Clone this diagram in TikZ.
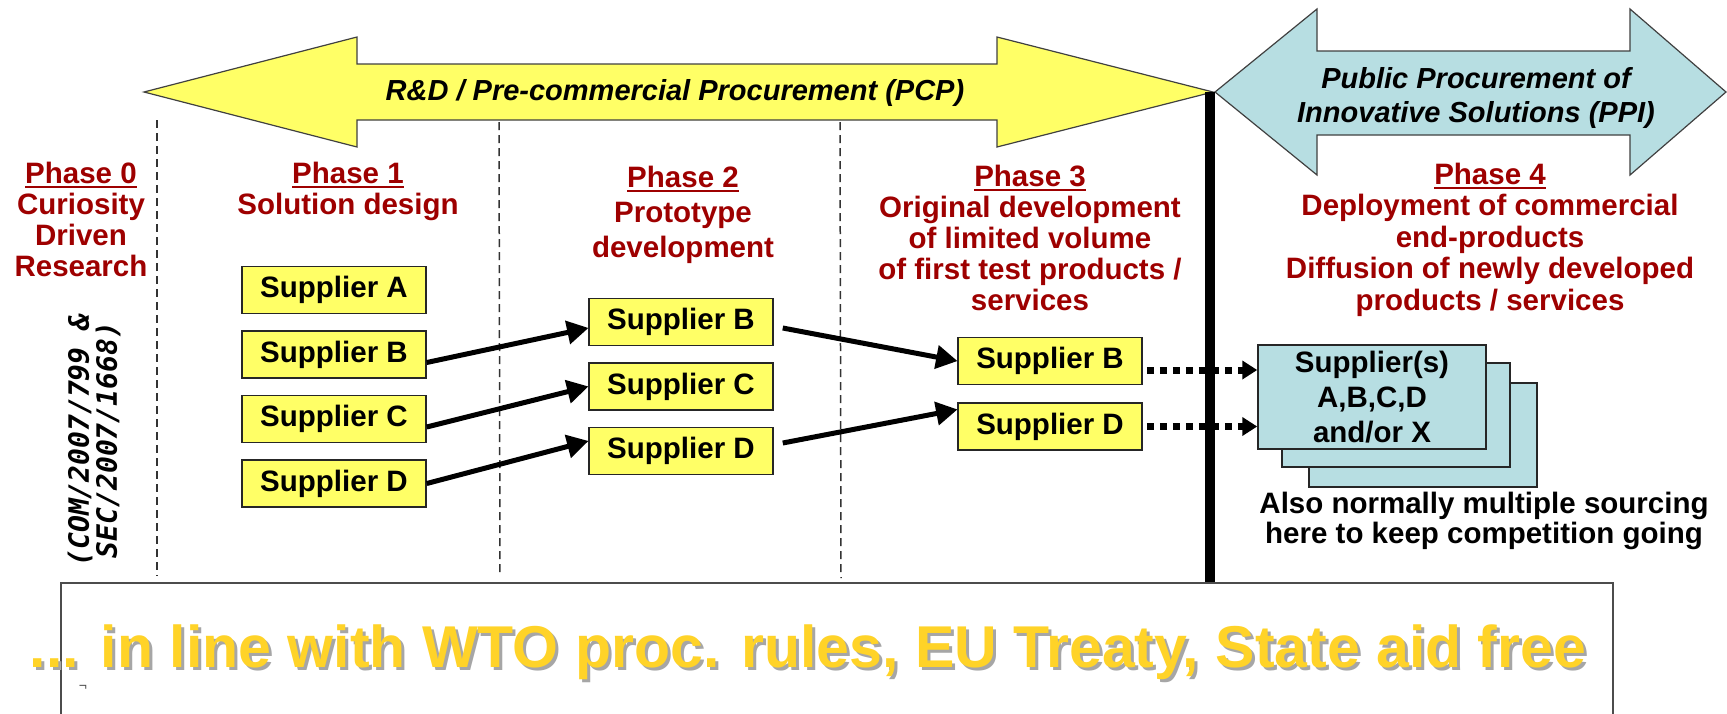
\documentclass[tikz,border=0pt]{standalone}
\usepackage{fontspec}
\setmainfont{Liberation Sans}
\newfontfamily\refmono{DejaVu Sans Mono}
\usepackage{tikz}
\usetikzlibrary{calc}
\usetikzlibrary{arrows}
\usetikzlibrary{arrows.meta}
\usetikzlibrary{positioning}
\definecolor{boxyellow}{RGB}{255,255,102}
\definecolor{ppiblue}{RGB}{183,222,226}
\definecolor{phasered}{RGB}{158,0,0}
\definecolor{wtogold}{RGB}{255,211,40}
\newcommand{\phaseul}[1]{\setbox0\hbox{#1}\rlap{\rule[-4.5pt]{\wd0}{2pt}}\box0}
\tikzset{%
  supedge/.style={->, line width=5pt, >=triangle 60},
  dotedge/.style={-{Triangle[length=15pt,width=18pt]}, line width=7pt, dash pattern=on 7pt off 6pt},
  supbox/.style={draw=black!85, fill=boxyellow, line width=1.5pt, minimum width=184pt, minimum height=47pt, inner sep=0pt, font=\bfseries\fontsize{29.5}{30}\selectfont},
  stackbox/.style={draw=black!85, fill=ppiblue, line width=1.5pt, minimum width=228pt, minimum height=104pt, inner sep=0pt},
  phasetext/.style={text=phasered, align=center, anchor=base, inner sep=0pt, font=\bfseries\fontsize{29.5}{31}\selectfont},
  arrowtext/.style={align=center, anchor=base, inner sep=0pt, font=\bfseries\itshape\fontsize{29}{34}\selectfont},
  sepline/.style={black!80, line width=1.5pt, dash pattern=on 8pt off 5pt},
  wtotext/.style={anchor=base, inner sep=0pt, text=wtogold, font=\bfseries\fontsize{59}{60}\selectfont}
}

\begin{document}
\begin{tikzpicture}[x=1pt, y=-1pt]
  \useasboundingbox (0,0) rectangle (1727,713);
  \draw[fill=boxyellow, draw=black!75, line width=1.2pt] (144,92) -- (357,37) -- (357,64) -- (997,64) -- (997,37) -- (1213,92) -- (997,147) -- (997,120) -- (357,120) -- (357,147) -- cycle;
  \draw[fill=ppiblue, draw=black!75, line width=1.2pt] (1215,92) -- (1317,9) -- (1317,51) -- (1630,51) -- (1630,9) -- (1726,92) -- (1630,175) -- (1630,135) -- (1317,135) -- (1317,175) -- cycle;
  \node[arrowtext] (pcp) at (675,100) {R\&D / Pre-commercial Procurement (PCP)};
  \node[arrowtext] (ppi) at (1476,122) {Public Procurement of\\Innovative Solutions (PPI)};

  \draw[sepline] (157,120) -- (157,576);
  \draw[sepline] (499,122) -- (500,576);
  \draw[sepline] (840,122) -- (841,578);
  \draw[line width=10pt] (1210,92) -- (1210,583);

  \node[phasetext] (ph0) at (81,276) {\phaseul{Phase 0}\\Curiosity\\Driven\\Research};
  \node[phasetext] (ph1) at (348,214) {\phaseul{Phase 1}\\Solution design};
  \node[phasetext, font=\bfseries\fontsize{29.5}{35}\selectfont] (ph2) at (683,257) {\phaseul{Phase 2}\\Prototype\\development};
  \node[phasetext] (ph3) at (1030,310) {\phaseul{Phase 3}\\Original development\\of limited volume\\of first test products /\\services};
  \node[phasetext, font=\bfseries\fontsize{29.5}{31.5}\selectfont] (ph4) at (1490,310) {\phaseul{Phase 4}\\Deployment of commercial\\end-products\\Diffusion of newly developed\\products / services};
  \node[rotate=90, align=center, inner sep=0pt, font=\refmono\bfseries\itshape\fontsize{28}{28}\selectfont] (ref) at (94,440) {(COM/2007/799 \&\\SEC/2007/1668)};

  \node[supbox] (p1a) at (334,290) {Supplier A};
  \node[supbox, below=16pt of p1a] (p1b) {Supplier B};
  \node[supbox, below=16pt of p1b] (p1c) {Supplier C};
  \node[supbox, below=16pt of p1c] (p1d) {Supplier D};
  \node[supbox] (p2b) at (681,322) {Supplier B};
  \node[supbox, below=16pt of p2b] (p2c) {Supplier C};
  \node[supbox, below=16pt of p2c] (p2d) {Supplier D};
  \node[supbox] (p3b) at (1050,361) {Supplier B};
  \node[supbox, below=17pt of p3b] (p3d) {Supplier D};

  \node[stackbox] (sup3) at (1423,435) {};
  \node[stackbox] (sup2) at (1396,415) {};
  \node[stackbox, align=center, font=\bfseries\fontsize{29.5}{35}\selectfont] (sup) at (1372,397) {Supplier(s)\\A,B,C,D\\and/or X};
  \node[align=center, inner sep=0pt, font=\bfseries\fontsize{29.5}{30}\selectfont] (note) at (1484,521) {Also normally multiple sourcing\\here to keep competition going};

  \draw[supedge] ([yshift=-8pt]p1b.east) -- ([yshift=-6pt]p2b.west);
  \draw[supedge] ([yshift=-8pt]p1c.east) -- (p2c.west);
  \draw[supedge] (p1d.east) -- ([yshift=10pt]p2d.west);
  \draw[supedge] ([xshift=9pt,yshift=-6pt]p2b.east) -- (p3b.west);
  \draw[supedge] ([xshift=9pt,yshift=8pt]p2d.east) -- ([yshift=17pt]p3d.west);
  \coordinate (dotb) at ([xshift=4pt,yshift=-9pt]p3b.east);
  \coordinate (dotd) at ([xshift=4pt]p3d.east);
  \draw[dotedge] (dotb) -- (dotb -| sup.west);
  \draw[dotedge] (dotd) -- (dotd -| sup.west);

  \draw[draw=black!70, line width=1.5pt, fill=white] (61,583) rectangle (1613,730);
  \node[wtotext, text=black!35] (wtoshadow) at (811,670) {... in line with WTO proc. rules, EU Treaty, State aid free};
  \node[wtotext] (wto) at (808,667) {... in line with WTO proc. rules, EU Treaty, State aid free};
  \node[inner sep=0pt, text=black!70, font=\fontsize{14}{14}\selectfont] (mark) at (83,688) {¬};
\end{tikzpicture}
\end{document}
